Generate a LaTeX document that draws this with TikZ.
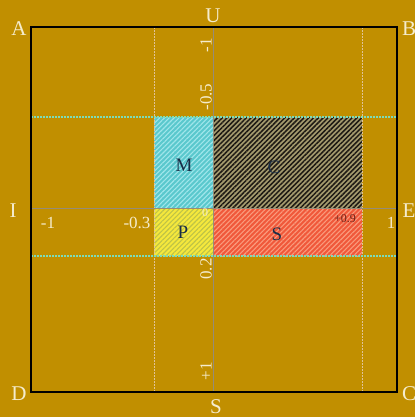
\documentclass[tikz,border=0pt]{standalone}
\usepackage{fontspec}
\setmainfont{Liberation Serif}
\usetikzlibrary{patterns.meta}
\definecolor{bg}{RGB}{193,143,0}
\definecolor{cream}{RGB}{245,236,205}
\definecolor{axisgray}{RGB}{150,140,120}
\definecolor{mbase}{RGB}{90,200,205}
\definecolor{mline}{RGB}{160,230,235}
\definecolor{cbase}{RGB}{165,155,110}
\definecolor{cline}{RGB}{30,26,20}
\definecolor{pbase}{RGB}{245,232,60}
\definecolor{pline}{RGB}{190,195,70}
\definecolor{sbase}{RGB}{240,88,58}
\definecolor{sline}{RGB}{250,155,125}
\definecolor{hgreen}{RGB}{125,220,185}
\definecolor{vlight}{RGB}{225,195,150}
\definecolor{labdark}{RGB}{25,45,70}
\definecolor{ninered}{RGB}{110,35,25}
\tikzset{
  corner/.style={text=cream, font=\fontsize{21}{21}\selectfont, inner sep=0pt},
  num/.style={text=cream, font=\fontsize{17}{17}\selectfont, inner sep=0pt},
  vnum/.style={num, rotate=90},
  small/.style={font=\fontsize{12}{12}\selectfont, inner sep=0pt},
  region/.style={text=labdark, font=\fontsize{19}{19}\selectfont, inner sep=0pt},
  hatch/.style 2 args={pattern={Lines[angle=45,distance=3.4pt,line width=#2]}, pattern color=#1},
  border/.style={draw=black, line width=2pt},
  axis/.style={draw=axisgray, line width=0.9pt},
  hdash/.style={draw=hgreen, line width=1.1pt, dash pattern=on 2pt off 1pt},
  vdash/.style={draw=vlight, line width=1pt, dash pattern=on 2pt off 1pt},
}
\begin{document}
\begin{tikzpicture}[x=1pt,y=-1pt]
\fill[bg] (0,0) rectangle (415,417);
\useasboundingbox (0,0) rectangle (415,417);
% corners of the square
\coordinate (a) at (31,27);
\coordinate (b) at (397,27);
\coordinate (c) at (397,392);
\coordinate (d) at (31,392);
\coordinate (u) at (213,27);
\coordinate (s) at (213,392);
\coordinate (i) at (31,208);
\coordinate (e) at (397,208);
% regions
\fill[mbase] (154,117) rectangle (213,208);
\fill[hatch={mline}{1.1pt}] (154,117) rectangle (213,208);
\fill[cbase] (213,117) rectangle (362,208);
\fill[hatch={cline}{1.5pt}] (213,117) rectangle (362,208);
\fill[pbase] (154,208) rectangle (213,256);
\fill[hatch={pline}{1.1pt}] (154,208) rectangle (213,256);
\fill[sbase] (213,208) rectangle (362,256);
\fill[hatch={sline}{1.1pt}] (213,208) rectangle (362,256);
% dashed guide lines
\draw[vdash] (154,27) -- (154,392);
\draw[vdash] (362,27) -- (362,392);
\draw[hdash] (31,117) -- (397,117);
\draw[hdash] (31,256) -- (397,256);
% axes
\draw[axis] (u) -- (s);
\draw[axis] (i) -- (e);
% border
\draw[border] (a) -- (b) -- (c) -- (d) -- cycle;
% corner labels
\node[corner] (lA) at (19,29) {A};
\node[corner] (lB) at (409,29) {B};
\node[corner] (lC) at (409,394) {C};
\node[corner] (lD) at (19,394) {D};
\node[corner] (lU) at (213,16) {U};
\node[corner] (lS) at (216,407) {S};
\node[corner] (lI) at (13,211) {I};
\node[corner] (lE) at (409,211) {E};
% horizontal axis numbers
\node[num] (hm1) at (48,223) {-1};
\node[num] (hm03) at (137,223) {-0.3};
\node[num] (hp1) at (391,223) {1};
\node[small, text=cream] (h0) at (205,213) {0};
\node[small, text=ninered] (hp09) at (345,219) {+0.9};
% vertical axis numbers
\node[vnum] (vm1) at (206,45) {-1};
\node[vnum] (vm05) at (206,97) {-0.5};
\node[vnum] (v02) at (206,269) {0.2};
\node[vnum] (vp1) at (206,371) {+1};
% region labels
\node[region] (M) at (184,165) {M};
\node[region] (C) at (274,167) {C};
\node[region] (P) at (183,232) {P};
\node[region] (S) at (277,234) {S};
\end{tikzpicture}
\end{document}
